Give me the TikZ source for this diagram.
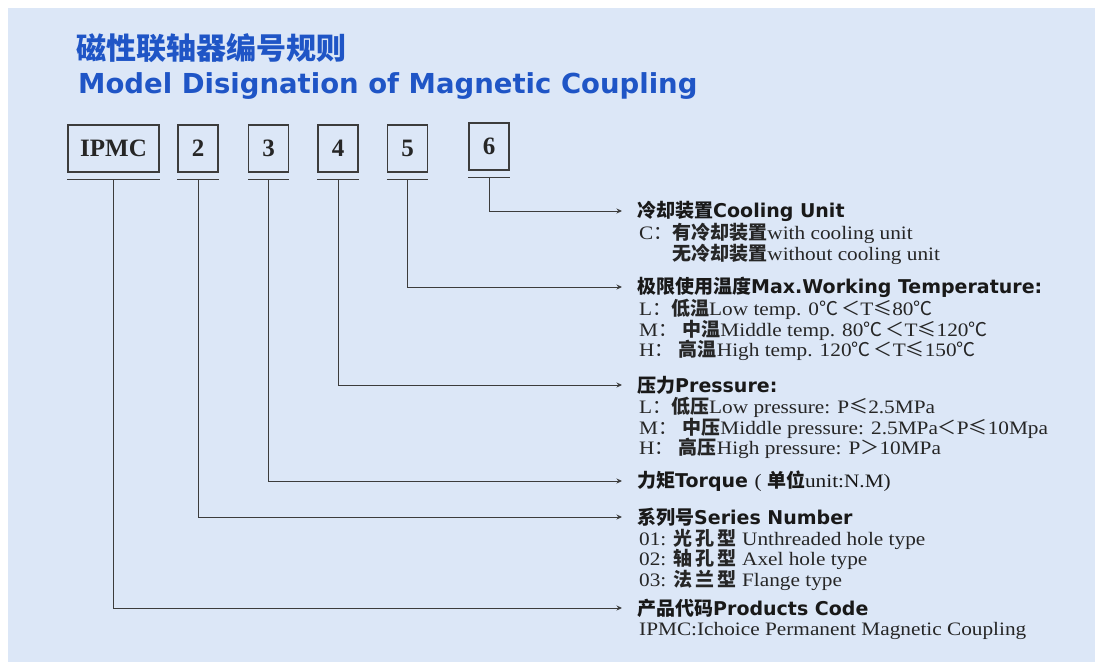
\documentclass[tikz,border=0pt]{standalone}
\usepackage{fontspec}
\setmainfont{Liberation Serif}
\newfontfamily\cjk{Noto Sans CJK SC}
\newfontfamily\headfont{DejaVu Sans}
\newfontfamily\subfont{Liberation Serif}[FakeStretch=1.12]
\newcommand{\zh}[1]{{\cjk #1}}
\newcommand{\zhb}[1]{{\cjk\bfseries #1}}
\usetikzlibrary{arrows.meta,positioning}
\definecolor{bgblue}{HTML}{DCE7F7}
\definecolor{titleblue}{HTML}{1F55C6}
\definecolor{linegray}{HTML}{3C3C3C}
\begin{document}
\begin{tikzpicture}[x=1pt, y=-1pt, >={Stealth[length=5.5pt,width=5pt]},
    codebox/.style={draw=linegray, line width=1.3pt, minimum width=40pt, minimum height=47pt,
      inner sep=0pt, font=\bfseries\fontsize{25}{25}\selectfont, text=black!85},
    head/.style={anchor=west, inner xsep=15pt, inner ysep=0pt,
      font=\headfont\bfseries\fontsize{19}{19}\selectfont, text=black!90},
    sub/.style={anchor=north west, inner xsep=17pt, inner ysep=0pt, align=left,
      font=\subfont\fontsize{19}{20.5}\selectfont, text=black!85},
    link/.style={draw=linegray, line width=1pt, ->}]
    % Sfondo
    \useasboundingbox (0,0) rectangle (1095,662);
    \fill[bgblue] (8,8) rectangle (1095,662);

    % Titoli
    \node[anchor=base west, inner sep=0pt, text=titleblue,
      font=\cjk\bfseries\fontsize{30}{30}\selectfont] (zhtitle) at (76,59) {磁性联轴器编号规则};
    \node[anchor=base west, inner sep=0pt, text=titleblue,
      font=\headfont\bfseries\fontsize{27.5}{27.5}\selectfont] (entitle) at (78,93)
      {Model Disignation of Magnetic Coupling};

    % Caselle del codice
    \node[codebox, minimum width=91pt] (ipmc) at (113.5,148.5) {IPMC};
    \foreach \n/\x in {2/198, 3/268.5, 4/338, 5/407.5} {
        \node[codebox] (c\n) at (\x,148.5) {\n};
    }
    \node[codebox] (c6) at (489,146.5) {6};

    % Linee sotto le caselle
    \foreach \b in {ipmc, c2, c3, c4, c5, c6} {
        \draw[linegray, line width=1pt] ([yshift=-7pt]\b.south west) -- ([yshift=-7pt]\b.south east);
        \coordinate (u\b) at ([yshift=-7pt]\b.south);
    }

    % Voci
    \node[head] (hcool) at (622,211) {\zh{冷却装置}Cooling Unit};
    \node[sub] (scool) at (622,223) {C\zh{：}\zhb{有冷却装置}with cooling unit\\
        \phantom{C\zh{：}}\zhb{无冷却装置}without cooling unit};

    \node[head] (htemp) at (622,287) {\zh{极限使用温度}Max.Working Temperature:};
    \node[sub] (stemp) at (622,299) {L\zh{：}\zhb{低温}Low temp. 0\zh{℃}\,\zh{＜}T\zh{≤}80\zh{℃}\\
        M\zh{：} \zhb{中温}Middle temp. 80\zh{℃}\,\zh{＜}T\zh{≤}120\zh{℃}\\
        H\zh{：} \zhb{高温}High temp. 120\zh{℃}\,\zh{＜}T\zh{≤}150\zh{℃}};

    \node[head] (hpres) at (622,385) {\zh{压力}Pressure:};
    \node[sub] (spres) at (622,397) {L\zh{：}\zhb{低压}Low pressure: P\zh{≤}2.5MPa\\
        M\zh{：} \zhb{中压}Middle pressure: 2.5MPa\zh{＜}P\zh{≤}10Mpa\\
        H\zh{：} \zhb{高压}High pressure: P\zh{＞}10MPa};

    \node[head] (htorq) at (622,481) {\zh{力矩}Torque {\subfont\mdseries( \zhb{单位}unit:N.M)}};

    \node[head] (hser) at (622,517) {\zh{系列号}Series Number};
    \node[sub] (sser) at (622,529) {01: \zhb{光\,孔\,型} Unthreaded hole type\\
        02: \zhb{轴\,孔\,型} Axel hole type\\
        03: \zhb{法\,兰\,型} Flange type};

    \node[head] (hprod) at (622,608) {\zh{产品代码}Products Code};
    \node[sub] (sprod) at (622,622) {IPMC:Ichoice Permanent Magnetic Coupling};

    % Collegamenti
    \draw[link] (uc6) |- (hcool.west);
    \draw[link] (uc5) |- (htemp.west);
    \draw[link] (uc4) |- (hpres.west);
    \draw[link] (uc3) |- (htorq.west);
    \draw[link] (uc2) |- (hser.west);
    \draw[link] (uipmc) |- (hprod.west);
\end{tikzpicture}
\end{document}
